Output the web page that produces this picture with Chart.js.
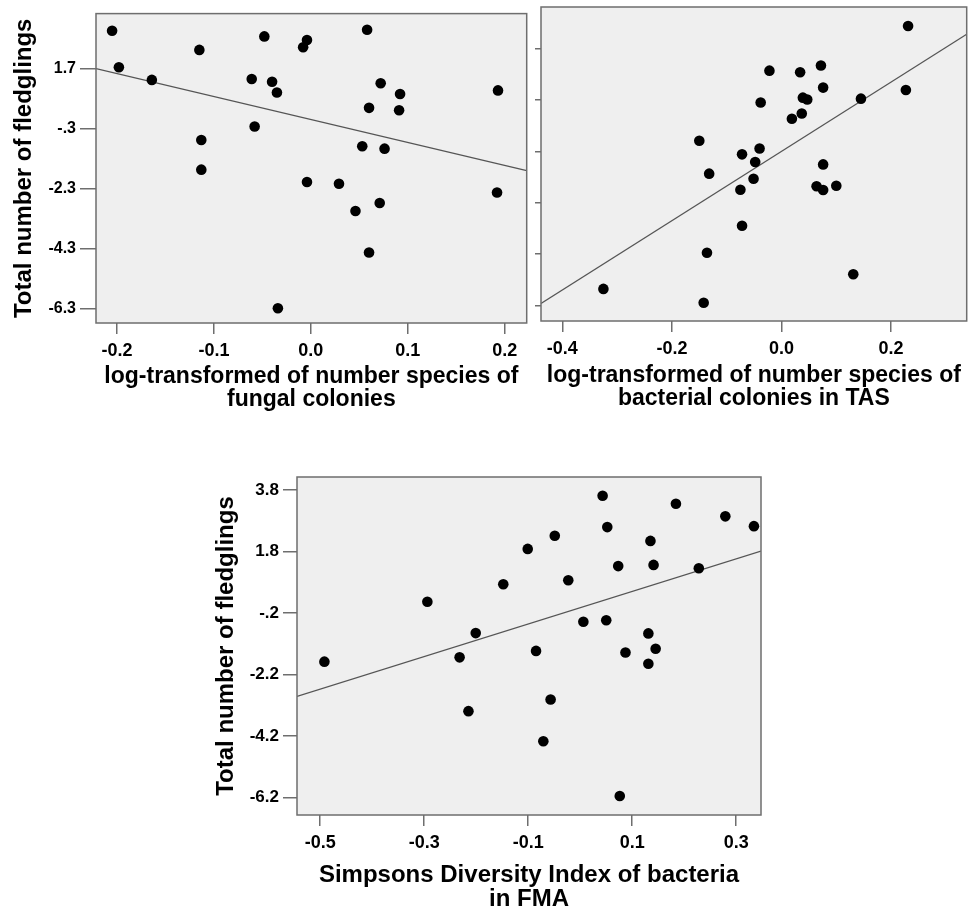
<!DOCTYPE html>
<html>
<head>
<meta charset="utf-8">
<script src="https://cdn.jsdelivr.net/npm/chart.js@4"></script>
<style>
  html, body { margin: 0; padding: 0; background: #fff; }
  #page { position: relative; width: 972px; height: 911px; overflow: hidden; }
  canvas { position: absolute; }
</style>
</head>
<body>
<div id="page">
  <canvas id="fungal" width="532" height="420" style="left:0;top:0"></canvas>
  <canvas id="tas" width="440" height="420" style="left:532px;top:0"></canvas>
  <canvas id="fma" width="572" height="471" style="left:200px;top:440px"></canvas>
</div>
<script>
// --- data ---
const fungalX = [-0.205, -0.198, -0.164, -0.115, -0.113, -0.113, -0.048, -0.061, -0.040, -0.035, -0.058, -0.008, -0.004, -0.004, -0.034, 0.058, 0.029, 0.046, 0.072, 0.060, 0.053, 0.076, 0.071, 0.060, 0.092, 0.091, 0.193, 0.192];
const fungalY = [2.96, 1.74, 1.32, 2.32, -0.68, -1.67, 2.77, 1.35, 1.26, 0.90, -0.23, 2.41, 2.65, -2.08, -6.29, 2.99, -2.14, -3.05, 1.21, 0.39, -0.89, -0.97, -2.78, -4.43, 0.85, 0.31, 0.97, -2.43];
const fungalFitX = [-0.2216, 0.2226];
const fungalFitY = [1.70, -1.70];

const tasX = [0.231, 0.227, 0.145, -0.022, 0.034, 0.072, 0.076, 0.039, 0.047, -0.038, 0.037, 0.019, -0.150, -0.040, -0.072, -0.048, -0.132, -0.051, -0.075, 0.076, 0.064, 0.076, 0.100, -0.072, -0.136, 0.131, -0.325, -0.142];
const tasY = [4.88, 2.39, 2.05, 3.14, 3.08, 3.34, 2.48, 2.09, 2.02, 1.90, 1.47, 1.27, 0.41, 0.11, -0.12, -0.42, -0.87, -1.07, -1.50, -0.51, -1.36, -1.51, -1.34, -2.90, -3.95, -4.79, -5.36, -5.90];
const tasFitX = [-0.4389, 0.338];
const tasFitY = [-5.93, 4.56];

const fmaX = [-0.492, -0.294, -0.201, -0.232, -0.215, -0.148, -0.101, -0.049, -0.023, -0.085, -0.057, -0.071, 0.006, 0.043, 0.052, 0.050, 0.073, 0.087, 0.076, 0.135, 0.141, 0.131, 0.145, 0.131, 0.184, 0.228, 0.279, 0.334];
const fmaY = [-1.78, 0.17, -0.85, -1.64, -3.39, 0.74, 1.89, 2.32, 0.87, -1.43, -3.01, -4.37, -0.48, 3.62, 2.60, -0.43, 1.33, -1.48, -6.15, 2.15, 1.37, -0.86, -1.36, -1.85, 3.36, 1.26, 2.95, 2.63];
const fmaFitX = [-0.5447, 0.3476];
const fmaFitY = [-2.91, 1.82];

// tick values + labels
const fungalXTicks = [-0.2, -0.1, 0, 0.1, 0.2];
const fungalXLabels = ["-0.2", "-0.1", "0.0", "0.1", "0.2"];
const tasXTicks = [-0.4, -0.2, 0, 0.2];
const tasXLabels = ["-0.4", "-0.2", "0.0", "0.2"];
const fmaXTicks = [-0.5, -0.3, -0.1, 0.1, 0.3];
const fmaXLabels = ["-0.5", "-0.3", "-0.1", "0.1", "0.3"];
const topYTicks = [1.7, -0.3, -2.3, -4.3, -6.3];
const topYLabels = ["1.7", "-.3", "-2.3", "-4.3", "-6.3"];
const tasYTicks = [4, 2, 0, -2, -4, -6];
const fmaYTicks = [3.8, 1.8, -0.2, -2.2, -4.2, -6.2];
const fmaYLabels = ["3.8", "1.8", "-.2", "-2.2", "-4.2", "-6.2"];

const Y_TITLE = "Total number of fledglings";

const FONT = "'Liberation Sans', Arial, sans-serif";
const PLOT_BG = "#efefef";
const FRAME = "#6e6e6e";
const FIT = "#555555";

Chart.defaults.font.family = FONT;
Chart.defaults.color = "#000";

const toPoints = (xs, ys) => xs.map((x, i) => ({ x, y: ys[i] }));

// gray plot box like SPSS
const plotBox = {
  id: "plotBox",
  beforeDraw(chart) {
    const { ctx, chartArea: a } = chart;
    ctx.save();
    ctx.fillStyle = PLOT_BG;
    ctx.fillRect(a.left, a.top, a.right - a.left, a.bottom - a.top);
    ctx.restore();
  },
  afterDraw(chart) {
    const { ctx, chartArea: a } = chart;
    ctx.save();
    ctx.strokeStyle = FRAME;
    ctx.lineWidth = 1.5;
    ctx.strokeRect(a.left, a.top, a.right - a.left, a.bottom - a.top);
    ctx.restore();
  },
};

function axisTicks(values) {
  return (axis) => { axis.ticks = values.map((v) => ({ value: v })); };
}

function panel(id, p) {
  return new Chart(document.getElementById(id), {
    type: "scatter",
    data: {
      datasets: [
        {
          data: toPoints(p.xs, p.ys),
          backgroundColor: "#000", borderWidth: 0, pointRadius: 5.3,
        },
        {
          type: "line",
          data: toPoints(p.fitX, p.fitY),
          borderColor: FIT, borderWidth: 1.3, pointRadius: 0, fill: false,
        },
      ],
    },
    options: {
      responsive: false, animation: false, devicePixelRatio: 1,
      layout: { padding: p.pad },
      plugins: { legend: { display: false }, tooltip: { enabled: false } },
      scales: {
        x: {
          type: "linear", min: p.xMin, max: p.xMax,
          afterBuildTicks: axisTicks(p.xTicks),
          afterFit: (s) => { s.height = p.xH; },
          grid: { drawOnChartArea: false, drawTicks: true, tickLength: 11, color: FRAME, lineWidth: 1.5 },
          border: { display: false },
          ticks: {
            autoSkip: false, maxRotation: 0, padding: 6,
            font: { size: 18, weight: "bold" },
            callback: (v, i) => p.xLabels[i],
          },
          title: {
            display: true, text: p.xTitle,
            font: { size: p.xTitleSize, weight: "bold", lineHeight: 1.0 },
            padding: { top: 0, bottom: p.xTitlePad },
          },
        },
        y: {
          type: "linear", min: p.yMin, max: p.yMax,
          afterBuildTicks: axisTicks(p.yTicks),
          afterFit: (s) => { s.width = p.yW; },
          grid: { drawOnChartArea: false, drawTicks: true, tickLength: p.yTick, color: FRAME, lineWidth: 1.5 },
          border: { display: false },
          ticks: {
            display: !!p.yLabels, autoSkip: false, padding: 4,
            font: { size: p.yTickSize, weight: "bold" },
            callback: (v, i) => (p.yLabels ? p.yLabels[i] : ""),
          },
          title: {
            display: !!p.yTitle, text: p.yTitle || "",
            font: { size: 24, weight: "bold" },
            padding: { top: p.yTitlePad || 0, bottom: 0 },
          },
        },
      },
    },
    plugins: [plotBox],
  });
}

panel("fungal", {
  xs: fungalX, ys: fungalY, fitX: fungalFitX, fitY: fungalFitY,
  xMin: -0.2216, xMax: 0.2226, yMin: -6.78, yMax: 3.53,
  xTicks: fungalXTicks, xLabels: fungalXLabels,
  yTicks: topYTicks, yLabels: topYLabels, yTickSize: 16, yTick: 16,
  xTitle: ["log-transformed of number species of", "fungal colonies"], xTitleSize: 23, xTitlePad: 9,
  yTitle: Y_TITLE, yTitlePad: 10,
  pad: { left: 0, top: 8, right: 3, bottom: 0 }, yW: 96, xH: 97,
});

panel("tas", {
  xs: tasX, ys: tasY, fitX: tasFitX, fitY: tasFitY,
  xMin: -0.4389, xMax: 0.338, yMin: -6.61, yMax: 5.62,
  xTicks: tasXTicks, xLabels: tasXLabels,
  yTicks: tasYTicks, yLabels: null, yTickSize: 15, yTick: 6,
  xTitle: ["log-transformed of number species of", "bacterial colonies in TAS"], xTitleSize: 23, xTitlePad: 10,
  yTitle: null,
  pad: { left: 0, top: 7, right: 1, bottom: 0 }, yW: 9, xH: 99,
});

panel("fma", {
  xs: fmaX, ys: fmaY, fitX: fmaFitX, fitY: fmaFitY,
  xMin: -0.5447, xMax: 0.3476, yMin: -6.77, yMax: 4.23,
  xTicks: fmaXTicks, xLabels: fmaXLabels,
  yTicks: fmaYTicks, yLabels: fmaYLabels, yTickSize: 17, yTick: 14,
  xTitle: ["Simpsons Diversity Index of bacteria", "in FMA"], xTitleSize: 24, xTitlePad: 0,
  yTitle: Y_TITLE, yTitlePad: 12,
  pad: { left: 0, top: 37, right: 11, bottom: 0 }, yW: 97, xH: 96,
});
</script>
</body>
</html>
